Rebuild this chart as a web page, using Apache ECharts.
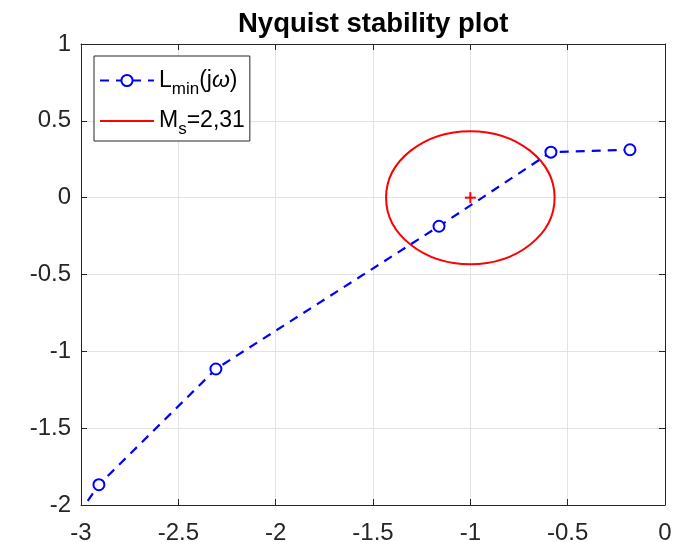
<!DOCTYPE html>
<html>
<head>
<meta charset="utf-8">
<script src="https://cdn.jsdelivr.net/npm/echarts@6/dist/echarts.min.js"></script>
<style>
  html, body { margin: 0; padding: 0; background: #fff; }
  #chart { width: 680px; height: 542px; }
</style>
</head>
<body>
<div id="chart"></div>
<script>
// Nyquist points of L_min(jw) (first one lies outside the box)
const lReal = [-3.2, -2.908, -2.307, -1.161, -0.586, -0.180]
const lImag = [-2.4, -1.868, -1.115, -0.186, 0.296, 0.312]
// Ms circle: centre at the critical point, radius 1/Ms
const critical = [-1, 0]
const msValue = [2.31]
const xTicks = [-3, 0, 0.5]
const yTicks = [-2, 1, 0.5]

const font = 'Liberation Sans, Arial, Helvetica, sans-serif'
const axisColor = '#262626'

const chart = echarts.init(document.getElementById('chart'))

const boxAxis = {
  axisLine: { show: true, onZero: false, lineStyle: { color: axisColor, width: 1 } },
  axisTick: { show: true, inside: true, length: 6, lineStyle: { color: axisColor } },
  axisLabel: { show: false },
  splitLine: { show: false }
}

chart.setOption({
  animation: false,
  title: {
    text: 'Nyquist stability plot',
    left: 238,
    top: 10,
    padding: 0,
    textStyle: { fontFamily: font, fontSize: 27.5, fontWeight: 'bold', color: '#000' }
  },
  grid: { left: 81, right: 15, top: 44, bottom: 37, containLabel: false, outerBoundsMode: 'none' },
  legend: {
    orient: 'vertical',
    left: 94,
    top: 56,
    padding: [13, 5, 3, 5],
    itemGap: 12,
    itemWidth: 54,
    itemHeight: 14,
    backgroundColor: '#fff',
    borderColor: axisColor,
    borderWidth: 1,
    borderRadius: 0,
    data: ['Lmin', { name: 'Ms', itemStyle: { opacity: 0 } }],
    formatter: function (name) {
      if (name === 'Lmin') return '{t|L}{s|min}{t|(j}{w|ω}{t|)}'
      return '{t|M}{s|s}{t|=2,31}'
    },
    textStyle: {
      fontFamily: font,
      fontSize: 23,
      color: '#000',
      rich: {
        t: { fontFamily: font, fontSize: 23, color: '#000' },
        w: { fontFamily: font, fontSize: 23, fontStyle: 'italic', color: '#000' },
        s: { fontFamily: font, fontSize: 17, color: '#000', padding: [17, 0, 0, 0] }
      }
    }
  },
  xAxis: [
    {
      type: 'value',
      min: xTicks[0],
      max: xTicks[1],
      interval: xTicks[2],
      position: 'bottom',
      axisLine: { show: true, onZero: false, lineStyle: { color: axisColor, width: 1 } },
      axisTick: { show: true, inside: true, length: 6, lineStyle: { color: axisColor } },
      axisLabel: { fontFamily: font, fontSize: 24, color: axisColor, margin: 16 },
      splitLine: { show: true, lineStyle: { color: '#e3e3e3', width: 1 } }
    },
    Object.assign({ type: 'value', min: xTicks[0], max: xTicks[1], interval: xTicks[2], position: 'top' }, boxAxis)
  ],
  yAxis: [
    {
      type: 'value',
      min: yTicks[0],
      max: yTicks[1],
      interval: yTicks[2],
      position: 'left',
      axisLine: { show: true, onZero: false, lineStyle: { color: axisColor, width: 1 } },
      axisTick: { show: true, inside: true, length: 6, lineStyle: { color: axisColor } },
      axisLabel: { fontFamily: font, fontSize: 24, color: axisColor, margin: 10 },
      splitLine: { show: true, lineStyle: { color: '#e3e3e3', width: 1 } }
    },
    Object.assign({ type: 'value', min: yTicks[0], max: yTicks[1], interval: yTicks[2], position: 'right' }, boxAxis)
  ],
  series: [
    {
      name: 'Lmin',
      type: 'line',
      data: lReal.map((x, i) => [x, lImag[i]]),
      clip: true,
      symbol: 'emptyCircle',
      symbolSize: 11,
      color: '#0000ff',
      itemStyle: { color: '#0000ff', borderColor: '#0000ff', borderWidth: 2 },
      lineStyle: { color: '#0000ff', width: 2.2, type: [9, 7] },
      z: 3
    },
    {
      // legend entry for the Ms circle (its single point sits far outside the box)
      name: 'Ms',
      type: 'line',
      data: [[-10, -10]],
      clip: true,
      symbol: 'none',
      showSymbol: false,
      color: '#ff0000',
      lineStyle: { color: '#ff0000', width: 2 }
    },
    {
      name: 'MsCircle',
      type: 'custom',
      clip: true,
      data: [[critical[0], critical[1], 1 / msValue[0]]],
      renderItem: function (params, api) {
        const c = api.coord([api.value(0), api.value(1)])
        const r = api.value(2)
        const p = api.coord([api.value(0) + r, api.value(1) + r])
        const rx = p[0] - c[0]
        const ry = c[1] - p[1]
        const h = 5.5
        return {
          type: 'group',
          children: [
            {
              type: 'ellipse',
              shape: { cx: c[0], cy: c[1], rx: rx, ry: ry },
              style: { fill: 'none', stroke: '#ff0000', lineWidth: 2 }
            },
            {
              type: 'line',
              shape: { x1: c[0] - h, y1: c[1], x2: c[0] + h, y2: c[1] },
              style: { stroke: '#ff0000', lineWidth: 2 }
            },
            {
              type: 'line',
              shape: { x1: c[0], y1: c[1] - h, x2: c[0], y2: c[1] + h },
              style: { stroke: '#ff0000', lineWidth: 2 }
            }
          ]
        }
      },
      z: 2
    }
  ]
})
</script>
</body>
</html>
